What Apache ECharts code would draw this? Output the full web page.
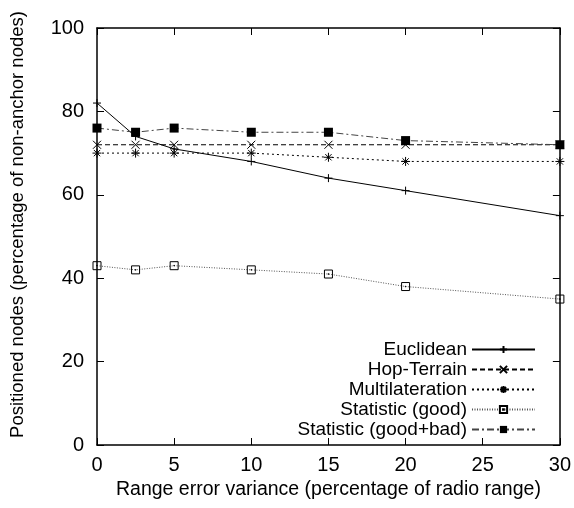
<!DOCTYPE html>
<html>
<head>
<meta charset="utf-8">
<script src="https://cdn.jsdelivr.net/npm/echarts@6/dist/echarts.min.js"></script>
<style>
  html, body { margin: 0; padding: 0; background: #fff; }
  #chart { width: 574px; height: 508px; }
</style>
</head>
<body>
<div id="chart"></div>
<script>
// Range error variance (percentage of radio range)
const variance = [0, 2.5, 5, 10, 15, 20, 30];

// Positioned nodes (percentage of non-anchor nodes)
const euclidean       = [82, 74, 71, 68, 64, 61, 55];
const hopTerrain      = [72, 72, 72, 72, 72, 72, 72];
const multilateration = [70, 70, 70, 70, 69, 68, 68];
const statGood        = [43, 42, 43, 42, 41, 38, 35];
const statGoodBad     = [76, 75, 76, 75, 75, 73, 72];

const seriesNames = ['Euclidean', 'Hop-Terrain', 'Multilateration', 'Statistic (good)', 'Statistic (good+bad)'];

const FONT = 'Liberation Sans, Arial, sans-serif';

// point glyphs
const PLUS  = 'path://M0,5L10,5M5,0L5,10';
const CROSS = 'path://M0,0L10,10M10,0L0,10';
const STAR  = 'path://M0,5L10,5M5,0L5,10M1.5,1.5L8.5,8.5M8.5,1.5L1.5,8.5';
const BOX   = 'path://M0,0L10,0L10,10L0,10Z M4.6,4.6L5.4,4.6L5.4,5.4L4.6,5.4Z';

function pairs(ys) { return variance.map((x, i) => [x, ys[i]]); }

function strokeSeries(name, ys, symbol, size, lineColor, lineType) {
  return {
    name, type: 'line', data: pairs(ys),
    symbol, symbolSize: size, showSymbol: true,
    lineStyle: { color: lineColor, width: 1, type: lineType },
    itemStyle: { color: 'none', borderColor: '#000', borderWidth: 1 },
    emphasis: { disabled: true }, animation: false, z: 3
  };
}

const series = [
  strokeSeries('Euclidean', euclidean, PLUS, 8, '#000', 'solid'),
  strokeSeries('Hop-Terrain', hopTerrain, CROSS, 8, '#000', [5, 3]),
  strokeSeries('Multilateration', multilateration, STAR, 9, '#000', [2, 3]),
  strokeSeries('Statistic (good)', statGood, BOX, 8, '#555', [1, 1.5]),
  {
    name: 'Statistic (good+bad)', type: 'line', data: pairs(statGoodBad),
    symbol: 'rect', symbolSize: 9,
    lineStyle: { color: '#444', width: 1, type: [7, 3, 2, 3] },
    itemStyle: { color: '#000' },
    emphasis: { disabled: true }, animation: false, z: 4
  }
];

// one legend per entry so the texts share a right edge
const legendTop = [340, 360, 380, 400, 420];
const legends = seriesNames.map((n, i) => ({
  data: [n], right: 38, top: legendTop[i], padding: 0,
  align: 'right', itemWidth: 63, itemHeight: 9,
  selectedMode: false,
  textStyle: { fontFamily: FONT, fontSize: 19, color: '#000', padding: [0, 0, 0, 0] }
}));

const axisLine = { show: true, onZero: false, lineStyle: { color: '#000', width: 1.5 } };
const tickIn = { show: true, inside: true, length: 7, lineStyle: { color: '#000', width: 1 } };
const labelStyle = { fontFamily: FONT, fontSize: 20, color: '#000' };

const option = {
  backgroundColor: '#fff',
  animation: false,
  grid: { left: 97, right: 14, top: 28, bottom: 63, containLabel: false },
  legend: legends,
  xAxis: [
    {
      type: 'value', min: 0, max: 30, interval: 5, position: 'bottom',
      name: 'Range error variance (percentage of radio range)',
      nameLocation: 'middle', nameGap: 35,
      nameTextStyle: { fontFamily: FONT, fontSize: 19.5, color: '#000' },
      axisLine, axisTick: tickIn,
      axisLabel: Object.assign({ margin: 10 }, labelStyle),
      splitLine: { show: false }
    },
    {
      type: 'value', min: 0, max: 30, interval: 5, position: 'top',
      axisLine, axisTick: tickIn, axisLabel: { show: false }, splitLine: { show: false }
    }
  ],
  yAxis: [
    {
      type: 'value', min: 0, max: 100, interval: 20, position: 'left',
      name: 'Positioned nodes (percentage of non-anchor nodes)',
      nameLocation: 'middle', nameGap: 70,
      nameTextStyle: { fontFamily: FONT, fontSize: 18.5, color: '#000', padding: [0, 0, 0, 24] },
      axisLine, axisTick: tickIn,
      axisLabel: Object.assign({ margin: 13 }, labelStyle),
      splitLine: { show: false }
    },
    {
      type: 'value', min: 0, max: 100, interval: 20, position: 'right',
      axisLine, axisTick: tickIn, axisLabel: { show: false }, splitLine: { show: false }
    }
  ],
  series
};

const chart = echarts.init(document.getElementById('chart'), null, { renderer: 'canvas' });
chart.setOption(option);
</script>
</body>
</html>
